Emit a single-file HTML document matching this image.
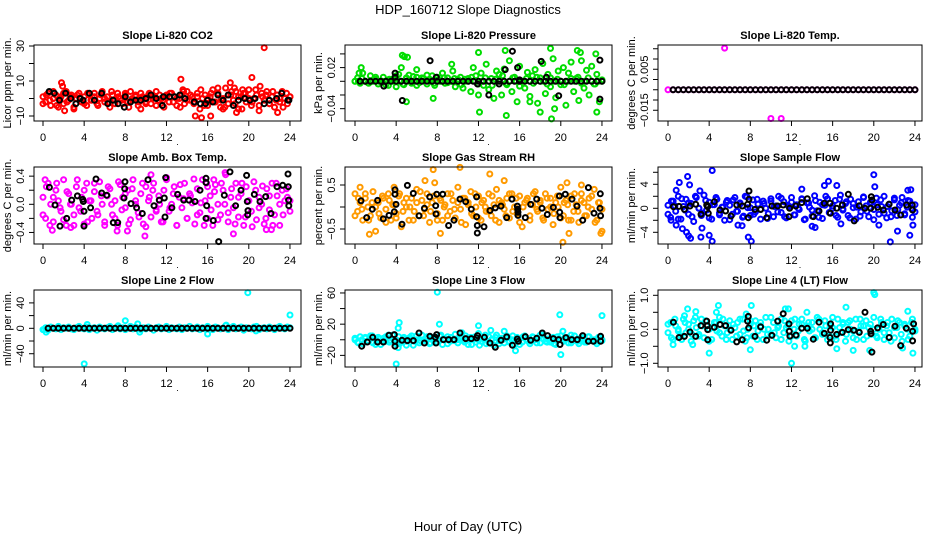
<!DOCTYPE html>
<html><head><meta charset="utf-8"><style>
html,body{margin:0;padding:0;background:#fff;}
svg{display:block;font-family:"Liberation Sans",sans-serif;}
</style></head><body>
<svg id="chart" width="936" height="540" viewBox="0 0 936 540" xmlns="http://www.w3.org/2000/svg">
<rect x="0" y="0" width="936" height="540" fill="#fff"/>
<text x="468" y="14" font-size="13" text-anchor="middle">HDP_160712  Slope Diagnostics</text>
<text x="468" y="531" font-size="13" text-anchor="middle">Hour of Day (UTC)</text>
</svg>
<script>
// ---------- data ----------
const hourTicks = [0,4,8,12,16,20,24];

const co2Main = [1,-2,3,-4,0,2,-5,1,-3,4,-1,2,-6,0,3,-2,1,-4,2,-1,3,-3,0,4,-2,1,-5,2,-1,3,0,-3,2,-2,4,-1,1,-4,3,0,-2,2,-3,1,4,-1,0,-5,2,-2,3,1,-4,0,2,-3,4,-1,1,-2,3,-6,0,2,-4,1,5,-2,3,-5,0,6,-3,2,-1,4,-6,1,3,-2,5,-4,0,2,-7,3,-1,4,-3,1,-5,2,-2,4,0,-3,1];
const co2B = [-3,2,-1,4,-4,0,3,-2,1,-5,2,0,-3,3,-1,1,-4,2,0,-2,4,-3,1,-1,3,-5,0,2,-2,1,-3,3,0,-4,2,-1,1,3,-2,0,-5,4,-1,2,-3,1,5,-4,0,3,-2,6,-1,-5,2,4,-3,1,-6,3,0,-2,5,-4,1,2,-3,4,-1,0,-5,3,1];
const co2ExtraHours = [1.8,1.9,2.1,13.4,13.6,14.8,15.4,16.3,18.2,18.6,18.8,19.4,20.3,21.1,21.5,22.8,9.5,17.5];
const co2ExtraVals = [9,7,-7,11,5,-10,-11,-10,9,6,-8,5,12,7,29,-8,-6,-6];
const co2BlackHours = [0.6,1.1,1.6,2.2,2.7,3.2,3.6,3.9,4.5,5.0,5.7,6.3,6.8,7.3,7.9,8.0,8.5,9.0,9.5,10.0,10.5,11.0,11.6,11.7,12.3,12.8,13.3,13.8,14.7,15.3,15.8,16.0,16.5,17.0,17.5,18.0,18.5,19.0,19.6,20.1,20.6,21.5,22.0,22.7,23.2,23.8,23.9];
const co2BlackVals = [4,3,-1,3,0,-3,0,-1,3,-1,3,-3,-1,-3,-5,1,-2,-1,-1,0,2,0,-4,1,1,1,2,0,-2,-3,-3,-1,-2,2,-1,2,-4,-1,0,-1,0,-3,-1,0,3,-1,-1];

const presMain = [0,0.005,-0.003,0.012,0,-0.002,0.008,0,0.003,-0.004,0,0.006,0,-0.006,0.002,0.004,-0.008,0.01,0.02,-0.005,0.004,0.009,-0.003,0,0.006,-0.002,0.005,0,-0.004,0.003,0.008,-0.006,0.002,0,0.012,-0.003,0.005,0,0.015,-0.008,0.003,0.006,-0.01,0,0.004,-0.015,0.02,0.008,-0.02,0.012,-0.006,0.025,-0.012,0.004,-0.025,0.015,0.01,-0.02,0.018,-0.005,0.03,-0.015,0.006,-0.03,0.022,0,-0.01,0.013,-0.022,0.008,0.017,-0.032,0.005,0.026,-0.018,0.01,-0.008,0.033,-0.024,0.015,-0.005,0.02,-0.035,0.012,0.028,-0.015,0.004,-0.028,0.03,-0.01,0.016,-0.02,0.022,-0.004,0.01,-0.03,0];
const presB = [0,0,0.004,0,-0.003,0,0.006,0,0,-0.005,0.003,0,0.008,0,-0.004,0.005,0,0.007,-0.006,0,0.004,0.009,0,-0.003,0.006,0,0.005,-0.002,0,0.004,0,-0.005,0.003,0,0.006,0,-0.004,0,0.005,0,-0.006,0.003,0,0.008,-0.003,0,0.005,0,-0.007,0,0.004,0,-0.003,0.006,0,0,-0.004,0.005,0,0.003,0,-0.005,0,0.004,0,0.006,-0.003,0,0.005,0,-0.004,0,0.002];
const presExtraHours = [4.6,4.8,5.1,5.0,7.6,12.0,12.1,14.6,14.7,17.0,18.0,19.1,19.4,19.0,21.6,21.9,23.5,23.4,9.4,6.0,0.4,0.6];
const presExtraVals = [0.038,0.036,0.035,-0.03,-0.025,0.042,-0.045,0.045,-0.05,-0.03,-0.045,-0.055,-0.04,0.048,0.045,0.042,-0.045,0.04,0.025,0.017,0.012,0.02];
const presBlackVals = [0,0,0,0,0,0,0,0,0,0,0,0,0,0,0,0,0,0,0,0,0,0,0,0,0,0,0,0,0,0,0,0,0,0,0,0,0,0,0,0,0,0,0,0,0,0,0,0];
const presBlackExtraHours = [2.8,3.9,3.9,4.6,7.3,7.9,11.9,13.0,14.0,14.6,15.3,15.8,16.0,18.1,18.6,19.8,23.8,23.8];
const presBlackExtraVals = [-0.007,0.012,0.006,-0.028,0.03,0.006,-0.004,-0.02,-0.004,0.017,0.044,0.02,0.002,0.029,0.006,-0.021,0.031,-0.026];

const tempMain = [-0.005,-0.005,-0.005,-0.005,-0.005,-0.005,-0.005,-0.005,-0.005,-0.005,-0.005,-0.005,-0.005,-0.005,-0.005,-0.005,-0.005,-0.005,-0.005,-0.005,-0.005,-0.005,-0.005,-0.005,-0.005,-0.005,-0.005,-0.005,-0.005,-0.005,-0.005,-0.005,-0.005,-0.005,-0.005,-0.005,-0.005,-0.005,-0.005,-0.005,-0.005,-0.005,-0.005,-0.005,-0.005,-0.005,-0.005,-0.005,-0.005];
const tempExtraHours = [5.5,10.0,11.0];
const tempExtraVals = [0.0153,-0.019,-0.019];
const tempBlackVals = [-0.005,-0.005,-0.005,-0.005,-0.005,-0.005,-0.005,-0.005,-0.005,-0.005,-0.005,-0.005,-0.005,-0.005,-0.005,-0.005,-0.005,-0.005,-0.005,-0.005,-0.005,-0.005,-0.005,-0.005,-0.005,-0.005,-0.005,-0.005,-0.005,-0.005,-0.005,-0.005,-0.005,-0.005,-0.005,-0.005,-0.005,-0.005,-0.005,-0.005,-0.005,-0.005,-0.005,-0.005,-0.005,-0.005,-0.005,-0.005];

const ambMain = [0.1,-0.2,0.3,0.0,-0.25,0.2,0.05,-0.1,0.35,-0.3,0.15,0.0,-0.15,0.25,-0.05,0.1,-0.28,0.3,0.05,-0.2,0.18,-0.1,0.32,0.0,-0.25,0.12,0.22,-0.15,0.05,-0.3,0.28,0.1,-0.05,0.2,-0.22,0.35,0.0,-0.12,0.15,-0.28,0.25,0.05,-0.18,0.3,-0.08,0.12,-0.25,0.2,0.38,-0.1,0.0,0.25,-0.3,0.1,-0.05,0.3,-0.2,0.15,0.02,-0.28,0.22,-0.12,0.35,0.05,-0.2,0.12,-0.3,0.28,0.0,-0.15,0.2,0.42,-0.25,0.1,-0.05,0.3,-0.18,0.15,-0.3,0.25,0.05,-0.1,0.32,-0.22,0.1,0.0,-0.28,0.22,-0.08,0.3,-0.15,0.12,-0.3,0.2,0.05,0.1,-0.1];
const ambB = [-0.15,0.25,-0.3,0.1,0.3,-0.05,-0.22,0.18,0.0,-0.3,0.35,-0.1,0.2,-0.25,0.05,0.3,-0.15,0.12,-0.3,0.25,0.0,-0.2,0.32,-0.08,0.15,-0.28,0.22,0.05,-0.18,0.3,-0.32,0.1,0.2,-0.1,0.0,-0.25,0.35,-0.05,0.15,-0.3,0.28,0.08,-0.2,0.12,0.36,-0.15,0.02,-0.3,0.25,-0.08,0.18,-0.22,0.3,0.0,-0.12,0.22,-0.28,0.1,0.3,-0.18,0.05,-0.32,0.2,-0.05,0.26,-0.2,0.12,-0.3,0.3,0.0,-0.15,0.22,0.05];
const ambExtraHours = [0.2,0.9,2.7,8.2,9.9,7.2,18.5,17.7,10.5,21.7,22.2,15.9,16.6];
const ambExtraVals = [0.35,-0.37,-0.33,-0.38,-0.45,-0.38,-0.42,0.45,0.42,-0.36,-0.36,0.3,0.35];
const ambBlackHours = [0.62,1.17,1.65,2.30,2.79,3.34,3.86,3.92,3.98,3.98,4.63,5.15,5.70,6.19,6.83,7.26,7.87,7.97,7.94,8.55,9.10,9.65,10.20,10.79,11.30,11.79,11.86,11.92,12.53,13.08,13.67,14.19,14.77,15.26,15.84,15.84,15.91,15.84,16.55,17.07,17.62,18.17,18.72,19.24,19.79,19.85,19.89,19.92,20.53,21.09,21.64,22.16,22.74,23.29,23.81,23.84,23.87,23.89];
const ambBlackVals = [0.24,-0.01,-0.31,-0.20,0.06,0.12,0.07,0.04,-0.10,-0.31,-0.05,0.36,0.16,0.13,-0.26,-0.26,0.09,0.32,0.22,0.01,-0.05,-0.13,0.35,-0.02,0.06,0.09,-0.18,0.38,-0.05,0.14,0.06,0.06,0.04,0.20,0.31,0.37,-0.02,-0.20,-0.23,-0.53,0.13,0.46,-0.02,0.20,0.41,0.04,-0.15,-0.09,0.14,0.04,0.11,-0.13,0.25,0.27,0.43,0.25,0.06,-0.02];

const rhMain = [0.3,-0.1,0.1,-0.3,0.2,0.0,-0.2,0.35,-0.55,0.1,-0.25,0.2,-0.05,0.3,-0.3,0.05,-0.15,0.25,-0.45,0.1,0.0,-0.3,0.2,-0.1,0.4,-0.2,0.15,-0.05,0.3,-0.35,0.1,0.55,-0.15,0.2,-0.3,0.05,0.3,-0.1,0.15,-0.25,0.45,-0.05,0.2,-0.4,0.1,0.35,-0.2,0.0,0.25,-0.3,0.15,-0.1,0.3,-0.2,0.05,0.4,-0.35,0.1,-0.05,0.2,-0.25,0.3,0.0,-0.15,0.25,-0.45,0.1,0.2,-0.3,0.05,0.35,-0.1,0.15,-0.25,0.3,-0.05,0.2,-0.4,0.1,0.0,0.45,-0.2,0.15,-0.3,0.25,-0.1,0.05,-0.35,0.3,0.1,-0.2,0.2,-0.05,0.4,-0.3,0.1,-0.55];
const rhB = [-0.2,0.2,-0.05,0.3,-0.3,0.1,0.0,-0.15,0.25,-0.35,0.15,0.05,-0.25,0.3,-0.1,0.2,0.0,-0.3,0.1,0.35,-0.2,0.05,-0.1,0.25,-0.3,0.15,0.0,-0.2,0.3,-0.05,0.1,-0.35,0.2,0.05,-0.15,0.3,-0.25,0.1,0.0,-0.1,0.25,-0.3,0.15,0.05,-0.2,0.3,-0.1,0.2,-0.35,0.0,0.15,-0.2,0.3,-0.05,0.1,-0.3,0.2,0.0,-0.15,0.25,-0.25,0.1,0.05,-0.3,0.3,-0.1,0.15,-0.2,0.0,0.25,-0.35,0.1,-0.05];
const rhExtraHours = [7.6,10.2,13.1,6.8,20.2,20.8,1.4,8.3,0.5,3.8,14.5,23.9,22.0,20.6];
const rhExtraVals = [0.85,0.9,0.75,0.6,-0.8,-0.6,-0.62,-0.6,0.45,0.45,0.6,-0.6,0.5,0.55];
const rhBlackHours = [0.58,1.14,1.68,2.20,2.75,3.30,3.82,3.89,3.89,3.98,4.57,5.09,5.67,6.22,6.74,7.26,7.84,7.87,7.94,8.52,9.10,9.62,10.20,10.76,11.30,11.82,11.82,11.89,11.89,12.54,13.12,13.63,14.19,14.74,15.26,15.77,15.81,15.84,15.84,16.55,17.07,17.66,18.17,18.69,19.27,19.86,19.89,19.92,20.44,21.09,21.57,22.13,22.68,23.23,23.84,23.81,23.87];
const rhBlackVals = [0.14,-0.24,-0.05,0.15,-0.27,-0.19,-0.11,0.39,0.29,0.06,-0.39,0.49,0.31,-0.20,-0.03,0.23,0.03,-0.16,0.29,0.29,-0.42,-0.30,0.18,0.12,-0.05,0.23,-0.22,-0.42,-0.59,-0.45,-0.08,-0.02,0.02,-0.24,0.18,0.02,-0.05,-0.19,-0.12,-0.24,0.06,0.18,-0.03,-0.17,-0.01,0.25,-0.12,-0.24,0.29,0.18,0.02,-0.30,0.44,-0.14,0.30,-0.03,-0.20];

const flowMain = [0.5,-1.5,1.2,-0.5,2.0,-1.8,0.3,1.5,-1.0,0.8,-2.2,1.8,0.0,-1.2,2.2,-0.3,1.0,-1.8,0.6,1.5,-0.8,0.2,-2.0,1.3,0.5,-1.0,1.8,-0.5,0.9,-1.5,2.0,0.1,-1.2,1.4,-0.6,0.7,-1.8,1.2,0.0,-0.9,1.6,-1.4,0.4,2.0,-0.7,1.1,-1.6,0.3,1.8,-1.1,0.6,-0.2,1.5,-1.9,0.9,0.2,-1.3,2.1,-0.4,1.0,-1.7,0.5,1.6,-0.8,0.0,1.3,-1.5,2.2,-0.3,0.8,-1.2,1.5,0.1,-1.8,1.1,-0.6,1.9,0.4,-1.4,0.9,-0.2,1.7,-1.0,0.3,2.0,-1.6,0.7,-0.4,1.4,-1.2,0.5,1.8,-0.9,0.2,1.2,-1.5,0.6];
const flowB = [-1.0,1.2,0.4,-1.8,1.6,-0.3,0.9,-1.4,2.0,0.0,-0.8,1.3,-1.6,0.6,1.8,-1.1,0.2,1.0,-1.9,1.4,-0.5,0.7,-1.3,1.9,0.1,-1.0,1.5,-0.2,0.8,-1.7,1.2,0.3,-0.6,1.7,-1.4,0.5,1.0,-1.1,0.0,1.6,-1.8,0.9,-0.3,1.3,-1.5,0.6,2.0,-0.7,0.4,-1.2,1.5,-0.1,1.1,-1.6,0.8,0.2,-1.3,1.8,-0.5,1.0,-1.9,0.6,1.4,-0.8,0.3,-1.4,1.7,-0.2,0.9,-1.1,1.3,0.0,-0.6];
const flowExtraHours = [0.8,1.1,1.9,2.1,3.1,0.3,0.8,1.4,1.8,2.0,2.2,3.3,3.2,4.0,4.3,4.3,7.8,8.1,13.0,14.3,15.2,15.6,16.4,16.8,20.0,20.1,20.5,21.6,22.3,23.3,23.6,23.5,23.8,14.0,6.8,7.2];
const flowExtraVals = [3,4.3,5.3,3.9,2.9,-2.0,-2.8,-3.4,-4.0,-4.6,-5.0,-3.3,-4.8,-4.5,6.3,-5.5,-4.8,-5.5,3.2,-3.2,3.8,4.5,3.8,-2.6,5.6,3.6,-2.8,-5.6,-3.8,3.0,3.1,-4.5,-2.8,-3.0,-2.8,-2.9];
const flowBlackHours = [0.52,1.07,1.59,2.14,2.69,3.21,3.76,3.86,3.92,4.50,5.05,5.60,6.12,6.68,7.22,7.74,7.80,7.87,7.87,8.45,9.0,9.59,10.10,10.66,11.20,11.76,11.82,12.41,12.99,13.54,14.12,14.67,15.19,15.74,15.77,16.39,16.94,17.52,18.10,18.59,19.14,19.70,19.76,19.82,20.37,20.92,21.48,22.06,22.61,23.19,23.74,23.77];
const flowBlackVals = [0.27,0.32,-0.18,0.38,0.66,-1.0,0.55,0.27,-0.84,1.1,-0.29,-0.45,-1.28,0.55,0.38,0.66,-1.56,2.88,1.49,-0.18,-0.18,-1.56,0.38,0.38,0.55,-1.39,0.0,0.38,0.94,1.6,-1.39,-0.45,0.83,0.83,-0.84,0,0.55,2.33,-2.1,0.44,0,0,1.93,1.38,0.16,-0.29,0.66,-0.29,-1.12,0.55,0.55,-0.29];

const l2Main = [-2,1,-3,2,0,-1,3,-2,1,0,2,-1,-2,1,3,0,-1,2,-2,0,1,-3,2,0,-1,1,3,-2,0,2,-1,1,-2,0,3,-1,2,0,-2,1,-1,2,0,-3,1,2,-1,0,3,-2,1,0,-1,2,-2,1,0,3,-1,0,2,-2,1,-1,3,0,-2,2,1,-1,0,4,-2,1,3,-1,0,2,-3,1,0,-1,2,3,-2,0,1,-1,2,0,-2,1,3,0,-1,2,1];
const l2ExtraHours = [0.1,0.3,4.0,4.3,8.0,9.2,9.4,16.0,19.9,24.0,17.8,20.7,7.3];
const l2ExtraVals = [-2,-6,-56,6,12,7,-6,-9,56,21,5,-4,4];
const l2BlackVals = [0,0,0,0,0,0,0,0,0,0,0,0,0,0,0,0,0,0,0,0,0,0,0,0,0,0,0,0,0,0,0,0,0,0,0,0,0,0,0,0,0,0,0,0,0,0,0,0];

const l3Main = [0,-3,4,-5,2,-1,5,-4,1,3,-6,2,-2,6,-1,0,-5,4,-3,3,-7,1,5,-2,0,-4,6,-1,2,-5,3,0,-3,5,-6,1,4,-2,0,7,-4,2,-1,5,-6,3,0,-3,8,-2,1,-5,4,0,-7,6,-1,2,-4,5,-2,0,-6,3,1,-3,5,-1,-5,4,0,2,-4,6,-2,1,-3,3,-6,0,5,-2,1,-4,6,-1,0,-5,3,2,-3,4,-1,0,-2,3,0];
const l3B = [2,-4,0,3,-2,5,-6,1,-1,4,-3,6,0,-5,2,-2,3,-7,5,-1,0,4,-4,2,-3,6,1,-5,3,-1,0,5,-3,2,-6,4,0,-2,6,-4,1,3,-5,0,2,-3,5,-1,-6,4,0,-2,3,-4,6,1,-3,2,-5,4,0,-1,3,-4,5,-2,1,-3,4,0,-2,3,-1];
const l3ExtraHours = [4.0,4.2,4.3,4.2,8.0,8.2,12.0,12.1,13.2,15.6,19.9,20.0,20.2,24.0,23.5,10.4,14.5];
const l3ExtraVals = [-31,-10,22,15,61,20,18,-7,12,-14,32,-19,11,31,-5,9,11];
const l3BlackHours = [0.65,1.2,1.72,2.2,2.76,3.30,3.82,3.89,3.89,4.57,5.09,5.67,6.22,6.74,7.28,7.8,7.87,7.94,8.59,9.1,9.62,10.2,10.76,11.3,11.82,11.9,12.58,13.12,13.63,14.19,14.74,15.3,15.77,15.87,16.55,17.07,17.66,18.2,18.72,19.27,19.79,19.92,20.5,21.06,21.6,22.13,22.68,23.17,23.87,23.87];
const l3BlackVals = [-8.3,-2.8,3.2,-2.8,-2.8,5.8,6.6,-2,-8.3,-0.7,-1.1,-1.1,8.7,-4.1,4.5,3.2,-4.1,6.6,0.2,0.2,0.2,8.7,1.5,1.5,2.4,5.4,3.2,-4.1,-9.6,-0.7,3.7,-7,1,-2,4.1,-0.7,1.9,8.7,5.4,1.5,0.2,-6.1,2.8,0.2,0.2,5.4,-2,-2,4.5,-2];

const l4Main = [-0.1,0.2,-0.3,0.1,0.0,-0.2,0.3,-0.1,0.15,-0.35,0.25,0.05,-0.15,0.3,-0.25,0.1,0.0,-0.3,0.2,-0.05,0.35,-0.2,0.1,-0.1,0.25,-0.3,0.05,0.2,-0.15,0.3,-0.35,0.0,0.15,-0.2,0.25,-0.05,0.1,-0.3,0.35,0.0,-0.15,0.2,-0.25,0.1,0.3,-0.1,0.05,-0.35,0.25,0.0,-0.2,0.15,0.3,-0.3,0.1,-0.05,0.2,-0.25,0.35,0.0,-0.15,0.25,-0.3,0.1,0.05,-0.2,0.3,-0.1,0.15,-0.35,0.2,0.0,-0.25,0.3,-0.05,0.1,-0.3,0.25,0.05,-0.15,0.35,-0.2,0.0,0.2,-0.3,0.1,-0.1,0.3,-0.25,0.05,0.2,-0.35,0.15,0.0,-0.2,0.3,-0.05];
const l4B = [0.15,-0.25,0.3,-0.05,-0.3,0.2,0.0,-0.15,0.35,-0.2,0.1,0.25,-0.35,0.05,0.2,-0.1,0.3,-0.3,0.0,0.15,-0.2,0.3,-0.05,-0.25,0.25,0.1,-0.3,0.2,0.0,-0.15,0.35,-0.1,0.05,-0.3,0.25,0.1,-0.2,0.3,-0.05,0.15,-0.35,0.2,0.0,-0.25,0.3,-0.1,0.1,-0.2,0.35,-0.3,0.05,0.2,-0.15,0.25,-0.05,-0.3,0.3,0.1,-0.2,0.15,0.0,-0.25,0.3,-0.1,0.2,-0.35,0.05,0.25,-0.15,0.1,-0.3,0.2,0.0];
const l4ExtraHours = [0.5,1.6,1.9,2.7,2.4,4.0,4.9,4.7,7.6,8.1,8.0,11.4,11.7,12.0,12.3,13.5,13.3,16.4,17.3,18.0,20.0,20.1,19.6,23.3,23.8,22.8];
const l4ExtraVals = [-0.45,0.4,0.6,0.52,-0.45,-0.7,0.7,0.5,0.45,0.7,-0.6,0.6,0.6,-1.0,-0.5,0.5,-0.5,-0.57,0.65,-0.62,1.08,1.02,-0.62,0.53,-0.7,-0.55];
const l4BlackHours = [0.52,1.07,1.59,2.14,2.69,3.21,3.76,3.82,3.86,3.86,4.5,5.05,5.6,6.12,6.68,7.22,7.74,7.8,7.84,8.45,9.0,9.59,10.1,10.66,11.2,11.76,11.79,11.85,12.44,12.99,13.54,14.12,14.67,15.19,15.74,15.77,15.8,15.8,16.39,16.94,17.52,18.07,18.59,19.14,19.7,19.73,19.82,20.37,20.92,21.5,22.06,22.61,23.16,23.77,23.77,23.87];
const l4BlackVals = [0.21,-0.24,-0.21,-0.08,-0.21,0.11,0.24,0.11,-0.01,-0.31,0.06,0.14,0.11,-0.03,-0.37,-0.31,0.24,0.38,0.04,-0.21,0.07,-0.32,-0.18,0.24,0.46,0.16,-0.06,-0.2,-0.17,0.03,0.03,-0.29,0.21,-0.12,-0.24,-0.40,-0.03,0.16,-0.15,-0.09,-0.01,-0.03,-0.09,0.50,-0.06,-0.13,-0.67,0.04,0.14,-0.24,0.09,-0.48,0.03,-0.34,-0.06,0.16];

// ---------- layout ----------
const NS = 'http://www.w3.org/2000/svg';
const svg = document.getElementById('chart');
const cols = [{l:34,r:301,x0:43},{l:345,r:612,x0:355},{l:658,r:922,x0:668}];
const rows = [{t:45,b:121,title:35},{t:167,b:244,title:157},{t:290,b:367,title:280}];
const pxPerHour = 10.29;
const regHours = n => Array.from({length:n},(_,i)=>i*24/(n-1));
const halfHours = n => Array.from({length:n},(_,i)=>0.5+i*0.5);

const panels = [
 {key:'co2',title:'Slope Li-820 CO2',ylab:'Licor ppm per min.',c:0,r:0,ymax:30.57,ymin:-12.86,ticks:[-10,0,10,20,30],labels:{'-10':'\u221210','10':'10','30':'30'},color:'#ff0000',
  series:[[co2Main,null],[co2B,null],[co2ExtraVals,co2ExtraHours]],black:[[co2BlackVals,co2BlackHours]]},
 {key:'pressure',title:'Slope Li-820 Pressure',ylab:'kPa per min.',c:1,r:0,ymax:0.0530,ymin:-0.0580,ticks:[0.04,0.02,0,-0.02,-0.04],labels:{'0.02':'0.02','-0.04':'\u22120.04'},color:'#00dd00',
  series:[[presMain,null],[presB,null],[presExtraVals,presExtraHours]],black:[[presBlackVals,'half'],[presBlackExtraVals,presBlackExtraHours]]},
 {key:'temp',title:'Slope Li-820 Temp.',ylab:'degrees C per min.',c:2,r:0,ymax:0.01683,ymin:-0.02024,ticks:[0.015,0.01,0.005,0,-0.005,-0.01,-0.015],labels:{'0.005':'0.005','-0.015':'\u22120.015'},color:'#ff00ff',
  series:[[tempMain,null],[tempExtraVals,tempExtraHours]],black:[[tempBlackVals,'half']]},
 {key:'ambbox',title:'Slope Amb. Box Temp.',ylab:'degrees C per min.',c:0,r:1,ymax:0.530,ymin:-0.564,ticks:[0.4,0.2,0,-0.2,-0.4],labels:{'0.4':'0.4','0':'0.0','-0.4':'\u22120.4'},color:'#ff00ff',
  series:[[ambMain,null],[ambB,null],[ambExtraVals,ambExtraHours]],black:[[ambBlackVals,ambBlackHours]]},
 {key:'rh',title:'Slope Gas Stream RH',ylab:'percent per min.',c:1,r:1,ymax:0.909,ymin:-0.841,ticks:[0.5,0,-0.5],labels:{'0.5':'0.5','-0.5':'\u22120.5'},color:'#ff9a00',
  series:[[rhMain,null],[rhB,null],[rhExtraVals,rhExtraHours]],black:[[rhBlackVals,rhBlackHours]]},
 {key:'sampleflow',title:'Slope Sample Flow',ylab:'ml/min per min.',c:2,r:1,ymax:6.88,ymin:-5.95,ticks:[6,4,2,0,-2,-4],labels:{'4':'4','0':'0','-4':'\u22124'},color:'#0000ff',
  series:[[flowMain,null],[flowB,null],[flowExtraVals,flowExtraHours]],black:[[flowBlackVals,flowBlackHours]]},
 {key:'line2',title:'Slope Line 2 Flow',ylab:'ml/min per min.',c:0,r:2,ymax:60.3,ymin:-60.9,ticks:[40,20,0,-20,-40],labels:{'40':'40','0':'0','-40':'\u221240'},color:'#00ffff',
  series:[[l2Main,null],[l2ExtraVals,l2ExtraHours]],black:[[l2BlackVals,'half']]},
 {key:'line3',title:'Slope Line 3 Flow',ylab:'ml/min per min.',c:1,r:2,ymax:63.8,ymin:-34.9,ticks:[60,40,20,0,-20],labels:{'60':'60','20':'20','-20':'\u221220'},color:'#00ffff',
  series:[[l3Main,null],[l3B,null],[l3ExtraVals,l3ExtraHours]],black:[[l3BlackVals,l3BlackHours]]},
 {key:'line4',title:'Slope Line 4 (LT) Flow',ylab:'ml/min per min.',c:2,r:2,ymax:1.156,ymin:-1.109,ticks:[1,0.5,0,-0.5,-1],labels:{'1':'1.0','0':'0.0','-1':'\u22121.0'},color:'#00ffff',
  series:[[l4Main,null],[l4B,null],[l4ExtraVals,l4ExtraHours]],black:[[l4BlackVals,l4BlackHours]]}
];

function mk(tag, attrs, parent){
  const e = document.createElementNS(NS, tag);
  for (const k in attrs) e.setAttribute(k, attrs[k]);
  parent.appendChild(e);
  return e;
}

panels.forEach(p => {
  const col = cols[p.c], row = rows[p.r];
  const xS = h => col.x0 + h*pxPerHour;
  const yS = v => row.t + (p.ymax - v)/(p.ymax - p.ymin)*(row.b - row.t);
  const g = mk('g', {}, svg);
  
  

  const title = mk('text', {x:(col.l+col.r)/2, y:row.title+4, 'font-size':11, 'font-weight':'bold', 'text-anchor':'middle'}, g);
  title.textContent = p.title;
  
  

  const marks = mk('g', {fill:'none', 'stroke-width':2}, g);
  
  
  const drawPts = (vals, hours, color) => {
    const hs = hours === null ? regHours(vals.length) : (hours === 'half' ? halfHours(vals.length) : hours);
    vals.forEach((v, i) => {
      const c = mk('circle', {cx:xS(hs[i]).toFixed(1), cy:yS(v).toFixed(1), r:2.5, stroke:color}, marks);
      
      
    });
  };
  p.series.forEach(s => drawPts(s[0], s[1], p.color));
  p.black.forEach(s => drawPts(s[0], s[1], '#000'));

  const box = mk('rect', {x:col.l, y:row.t, width:col.r-col.l, height:row.b-row.t, fill:'none', stroke:'#000', 'stroke-width':1}, g);
  
  

  const xa = mk('g', {}, g);
  
  
  hourTicks.forEach(h => {
    mk('line', {x1:xS(h), x2:xS(h), y1:row.b, y2:row.b+5, stroke:'#000'}, xa);
    const t = mk('text', {x:xS(h), y:row.b+20, 'font-size':11, 'text-anchor':'middle'}, xa);
    t.textContent = h;
    
    
  });
  const dot = mk('text', {x:(col.l+col.r)/2 + 10, y:row.b+24, 'font-size':9, 'text-anchor':'middle'}, xa);
  dot.textContent = '.';

  const ya = mk('g', {}, g);
  
  
  p.ticks.forEach(v => {
    const y = yS(v);
    mk('line', {x1:col.l-5, x2:col.l, y1:y, y2:y, stroke:'#000'}, ya);
    const lab = p.labels[String(v)];
    if (lab) {
      const lx = col.l - 10;
      const t = mk('text', {x:lx, y:y, 'font-size':11, 'text-anchor':'middle', transform:`rotate(-90 ${lx} ${y})`}, ya);
      t.textContent = lab;
      
      
    }
  });
  const yt = col.l - 23, ym = (row.t + row.b)/2;
  const ylab = mk('text', {x:yt, y:ym, 'font-size':11, 'text-anchor':'middle', transform:`rotate(-90 ${yt} ${ym})`}, g);
  ylab.textContent = p.ylab;
  
  
});
</script>
</body></html>
